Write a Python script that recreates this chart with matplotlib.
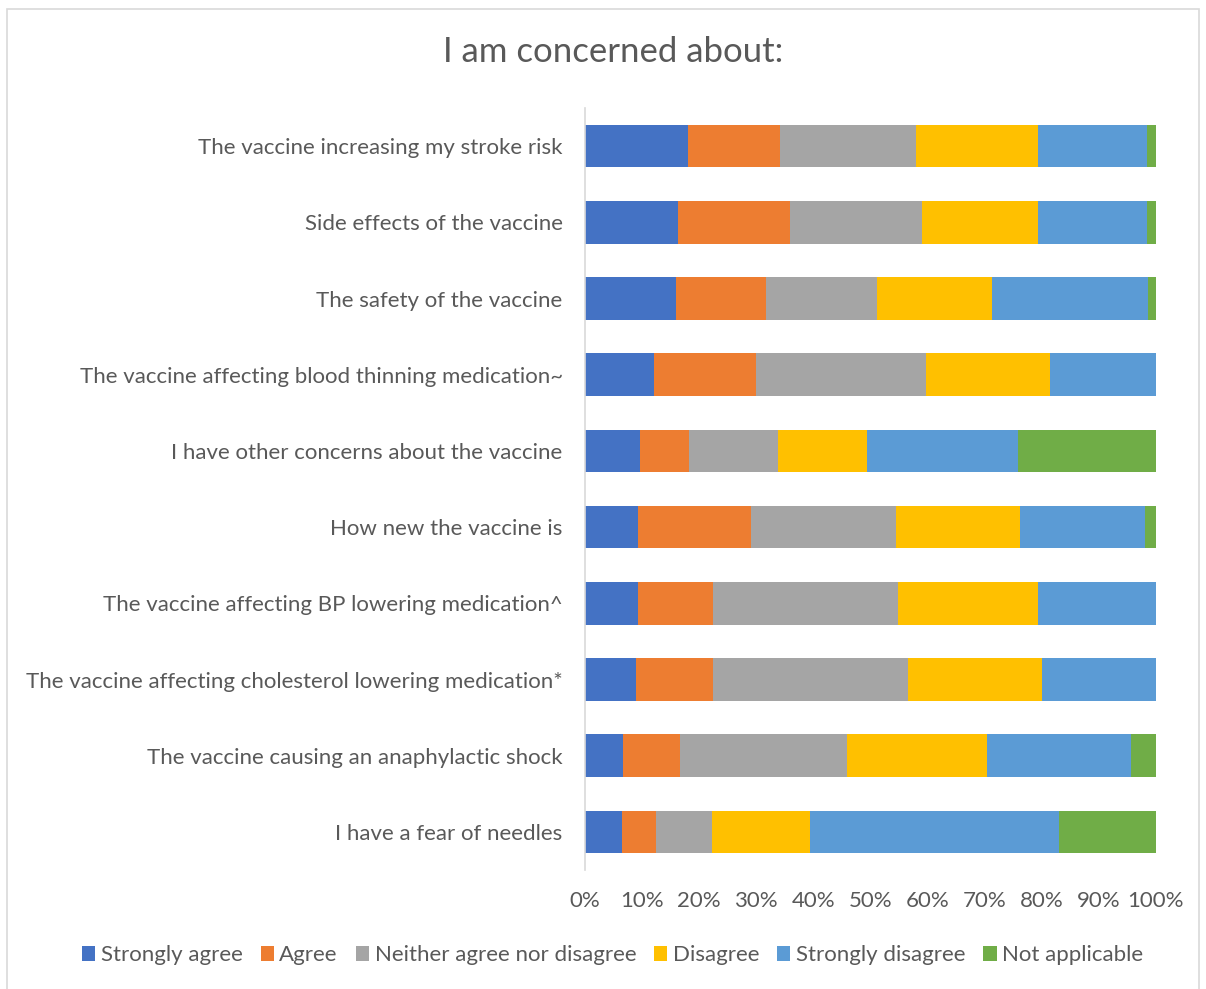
import matplotlib.pyplot as plt
import numpy as np
from matplotlib.patches import Rectangle
from matplotlib.ticker import PercentFormatter

plt.rcParams['font.family'] = ['Lato', 'DejaVu Sans']

# categories listed top to bottom
items = [
    'The vaccine increasing my stroke risk',
    'Side effects of the vaccine',
    'The safety of the vaccine',
    'The vaccine affecting blood thinning medication~',
    'I have other concerns about the vaccine',
    'How new the vaccine is',
    'The vaccine affecting BP lowering medication^',
    'The vaccine affecting cholesterol lowering medication*',
    'The vaccine causing an anaphylactic shock',
    'I have a fear of needles',
]

strongly_agree = [18.0, 16.3, 15.9, 12.1, 9.6, 9.3, 9.3, 8.9, 6.7, 6.5]
agree          = [16.1, 19.6, 15.8, 17.8, 8.6, 19.8, 13.1, 13.5, 9.9, 5.9]
neither        = [23.8, 23.1, 19.4, 29.8, 15.6, 25.4, 32.4, 34.2, 29.3, 9.8]
disagree       = [21.4, 20.3, 20.2, 21.7, 15.6, 21.7, 24.5, 23.4, 24.5, 17.2]
strongly_dis   = [19.1, 19.1, 27.3, 18.6, 26.4, 21.9, 20.7, 20.0, 25.2, 43.6]
not_applicable = [1.6, 1.6, 1.4, 0.0, 24.2, 1.9, 0.0, 0.0, 4.4, 17.0]

series = [
    ('Strongly agree', strongly_agree, '#4472C4'),
    ('Agree', agree, '#ED7D31'),
    ('Neither agree nor disagree', neither, '#A5A5A5'),
    ('Disagree', disagree, '#FFC000'),
    ('Strongly disagree', strongly_dis, '#5B9BD5'),
    ('Not applicable', not_applicable, '#70AD47'),
]

txt = '#595959'

fig = plt.figure(figsize=(12.06, 9.89), dpi=100)
fig.patches.append(Rectangle((7 / 1206, -10 / 989), 1192 / 1206, 990 / 989,
                             transform=fig.transFigure, fill=False,
                             edgecolor='#D9D9D9', linewidth=1.2))
ax = fig.add_axes([0.485, 0.1203, 0.4735, 0.7705])

# normalise each row to 100%
totals = np.sum([s[1] for s in series], axis=0)
y = np.arange(len(items))[::-1]
left = np.zeros(len(items))
for name, vals, col in series:
    v = np.array(vals) / totals * 100
    ax.barh(y, v, left=left, height=0.56, color=col, label=name)
    left += v

ax.set_xlim(0, 100)
ax.set_ylim(-0.5, len(items) - 0.5)
ax.set_yticks(y)
ax.set_yticklabels(items)
ax.set_xticks(np.arange(0, 101, 10))
ax.xaxis.set_major_formatter(PercentFormatter(decimals=0))
ax.tick_params(axis='both', length=0, labelsize=16, colors=txt)
ax.tick_params(axis='y', pad=16)
ax.tick_params(axis='x', pad=15)
for s in ['top', 'right', 'bottom']:
    ax.spines[s].set_visible(False)
ax.spines['left'].set_color('#D9D9D9')
ax.spines['left'].set_linewidth(1.2)

fig.text(0.508, 0.947, 'I am concerned about:', ha='center', va='center',
         fontsize=25, color=txt)

fig.legend(loc='center', bbox_to_anchor=(0.508, 0.034), ncol=6, frameon=False,
           fontsize=16, labelcolor=txt, handlelength=0.6, handleheight=0.6,
           handletextpad=0.25, columnspacing=0.8)

fig.savefig('out.png', dpi=100)
